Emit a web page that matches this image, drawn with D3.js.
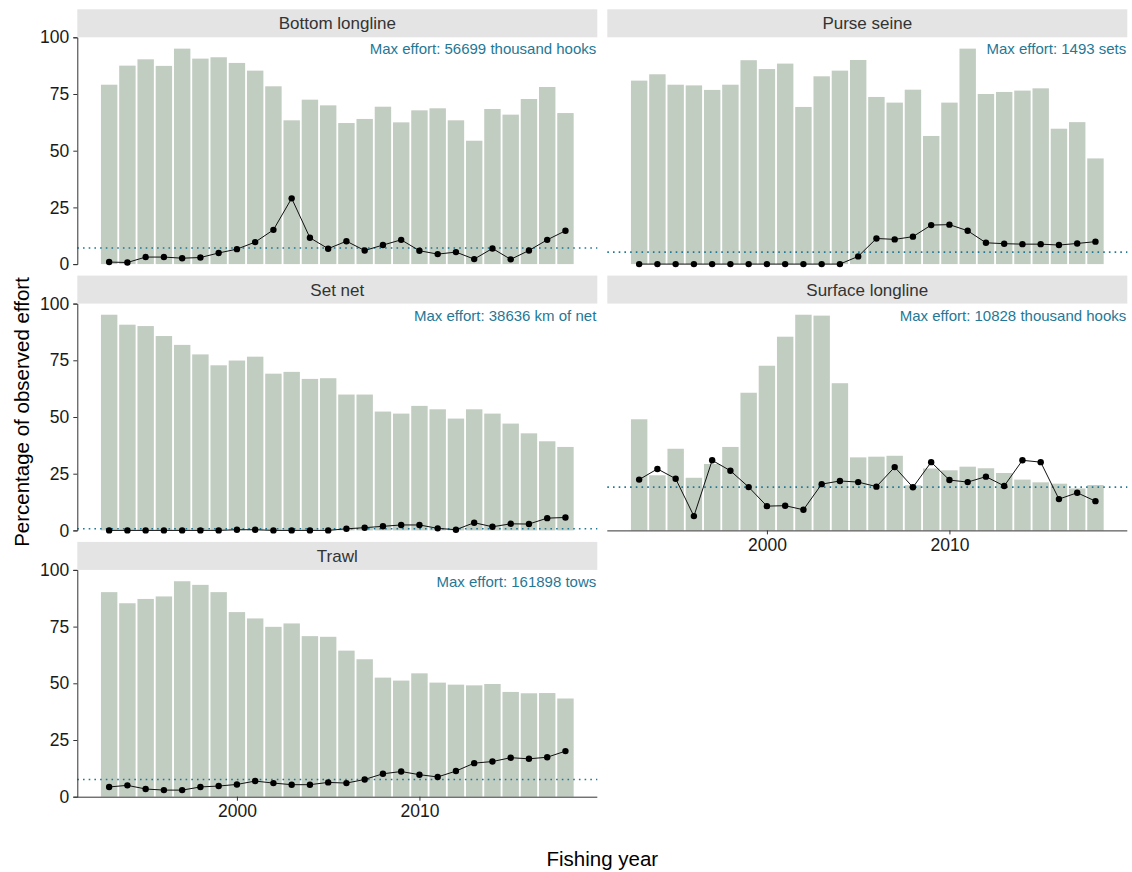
<!DOCTYPE html>
<html>
<head>
    <meta charset="utf-8">
    <title>Observed effort by fishing year</title>
    <script src="https://d3js.org/d3.v7.min.js"></script>
    <style>
        body { margin: 0; background: #fff; }
        svg { font-family: "Liberation Sans", Arial, sans-serif; }
    </style>
</head>
<body>
<svg id="chart" width="1132" height="872"></svg>

<script>
    // data
    var years = d3.range(1993, 2019);
    var gears = ["Bottom longline", "Purse seine", "Set net", "Surface longline", "Trawl"];
    var maxEffortLabels = [
        "Max effort: 56699 thousand hooks",
        "Max effort: 1493 sets",
        "Max effort: 38636 km of net",
        "Max effort: 10828 thousand hooks",
        "Max effort: 161898 tows"
    ];

    // bars: effort as percentage of max effort
    var effortBottomLongline = [79.1, 87.5, 90.3, 87.4, 95.0, 90.6, 91.2, 88.7, 85.3, 78.4, 63.4, 72.5, 70.0,
        62.2, 64.0, 69.4, 62.5, 67.8, 68.7, 63.4, 54.4, 68.4, 65.9, 72.8, 78.1, 66.6];
    var effortPurseSeine = [80.9, 83.7, 79.1, 78.8, 76.8, 79.1, 89.9, 86.0, 88.4, 69.3, 82.8, 85.3, 90.0,
        73.7, 71.2, 76.9, 56.5, 71.2, 95.0, 75.0, 75.9, 76.5, 77.5, 59.7, 62.6, 46.6];
    var effortSetNet = [95.1, 90.7, 90.1, 85.7, 81.8, 77.6, 72.8, 74.9, 76.6, 69.1, 69.9, 66.8, 67.1,
        59.9, 59.9, 52.4, 51.5, 54.9, 53.4, 49.3, 53.4, 51.5, 47.1, 42.8, 39.3, 36.8];
    var effortSurfaceLongline = [49.0, 24.3, 36.0, 23.2, 29.3, 36.8, 60.7, 72.6, 85.4, 95.1, 94.7, 64.9, 32.2,
        32.5, 32.9, 19.9, 27.3, 26.5, 28.1, 27.4, 25.3, 22.4, 21.2, 20.6, 18.5, 20.0];
    var effortTrawl = [90.2, 85.3, 87.2, 88.3, 95.0, 93.4, 90.2, 81.4, 78.6, 74.9, 76.4, 70.8, 70.5,
        64.4, 60.6, 52.5, 51.2, 54.4, 50.3, 49.4, 49.1, 49.7, 46.2, 45.6, 45.7, 43.3];

    // points: percentage of effort observed
    var observedBottomLongline = [0.9, 0.7, 3.1, 3.1, 2.6, 2.9, 4.9, 6.6, 9.7, 15.1, 29.0, 11.6, 6.8,
        10.1, 6.0, 8.4, 10.7, 5.9, 4.4, 5.3, 2.2, 6.9, 2.1, 6.0, 10.7, 14.7];
    var observedPurseSeine = [0, 0, 0, 0, 0, 0, 0, 0, 0, 0, 0, 0, 3.4,
        11.3, 10.9, 12.1, 17.2, 17.4, 14.7, 9.4, 9.0, 8.8, 8.8, 8.4, 9.1, 9.9];
    var observedSetNet = [0, 0, 0, 0, 0, 0, 0, 0.3, 0.3, 0, 0, 0, 0,
        0.7, 1.2, 1.8, 2.4, 2.4, 0.9, 0.3, 3.4, 1.6, 2.9, 2.8, 5.4, 5.7];
    var observedSurfaceLongline = [22.4, 27.1, 22.8, 6.3, 30.9, 26.3, 19.1, 10.7, 10.9, 9.1, 20.4, 21.8, 21.3,
        19.3, 27.9, 19.0, 30.1, 22.2, 21.3, 23.7, 19.6, 30.9, 30.1, 13.8, 16.6, 12.9];
    var observedTrawl = [4.3, 5.0, 3.4, 2.9, 2.9, 4.3, 4.7, 5.4, 6.9, 6.0, 5.3, 5.3, 6.3,
        6.0, 7.6, 10.1, 11.1, 9.7, 8.7, 11.3, 14.8, 15.5, 17.2, 16.7, 17.4, 20.1];

    // dotted reference line per gear
    var meanObserved = [7.1, 5.3, 0.7, 19.1, 7.6];

    var yTicks = [0, 25, 50, 75, 100];
    var xTicks = [2000, 2010];

    var effortSeries = [effortBottomLongline, effortPurseSeine, effortSetNet, effortSurfaceLongline, effortTrawl];
    var observedSeries = [observedBottomLongline, observedPurseSeine, observedSetNet, observedSurfaceLongline, observedTrawl];

    var svg = d3.select("#chart");

    var panelW = 520,
        panelH = 226.8,
        stripH = 28,
        colX = [77.3, 607.3],
        rowY = [9.3, 275.6, 541.9];

    var barColour = "#c2cdc2",
        refColour = "#1f7896";

    var x = d3.scaleLinear().domain([1991.255, 2019.745]).range([0, panelW]);
    var y = d3.scaleLinear().domain([0, 100]).range([panelH, 0]);

    gears.forEach(function(gear, i) {
        var col = i % 2,
            row = Math.floor(i / 2);

        var g = svg.append("g")
            .attr("transform", "translate(" + colX[col] + "," + (rowY[row] + stripH) + ")");

        // strip
        svg.append("rect")
            .attr("x", colX[col])
            .attr("y", rowY[row])
            .attr("width", panelW)
            .attr("height", stripH)
            .style("fill", "#e4e4e4");

        svg.append("text")
            .attr("x", colX[col] + panelW / 2)
            .attr("y", rowY[row] + 20)
            .attr("text-anchor", "middle")
            .style("font-size", "17px")
            .style("fill", "#333")
            .text(gear);

        var rows = years.map(function(yr, k) {
            return {year: yr, effort: effortSeries[i][k], observed: observedSeries[i][k]};
        });

        g.append("g")
            .selectAll("rect")
            .data(rows)
            .enter().append("rect")
            .attr("x", function(d) { return x(d.year - 0.45); })
            .attr("width", x(1992.155) - x(1991.255))
            .attr("y", function(d) { return y(d.effort); })
            .attr("height", function(d) { return y(0) - y(d.effort); })
            .style("fill", barColour);

        g.append("line")
            .attr("x1", 0)
            .attr("x2", panelW)
            .attr("y1", y(meanObserved[i]))
            .attr("y2", y(meanObserved[i]))
            .style("stroke", refColour)
            .style("stroke-width", 1.6)
            .style("stroke-dasharray", "1.6 4.1");

        var line = d3.line()
            .x(function(d) { return x(d.year); })
            .y(function(d) { return y(d.observed); });

        g.append("path")
            .datum(rows)
            .attr("d", line)
            .style("fill", "none")
            .style("stroke", "#111")
            .style("stroke-width", 1);

        g.append("g")
            .selectAll("circle")
            .data(rows)
            .enter().append("circle")
            .attr("cx", function(d) { return x(d.year); })
            .attr("cy", function(d) { return y(d.observed); })
            .attr("r", 3.2)
            .style("fill", "#000");

        g.append("text")
            .attr("x", panelW - 1)
            .attr("y", 17)
            .attr("text-anchor", "end")
            .style("font-size", "15px")
            .style("fill", refColour)
            .text(maxEffortLabels[i]);

        // y axis on the left column only
        if (col === 0) {
            var ya = g.append("g")
                .call(d3.axisLeft(y).tickValues(yTicks).tickSize(4).tickPadding(4));
            ya.selectAll("text").style("font-size", "17.5px").style("fill", "#1a1a1a").attr("font-family", null);
            ya.selectAll("line, path").style("stroke", "#333");
        }

        // x axis on the bottom panel of each column
        var isBottom = (col === 0 && row === 2) || (col === 1 && row === 1);
        if (isBottom) {
            var xa = g.append("g")
                .attr("transform", "translate(0," + panelH + ")")
                .call(d3.axisBottom(x).tickValues(xTicks).tickFormat(d3.format("d")).tickSize(4).tickPadding(4));
            xa.selectAll("text").style("font-size", "17.5px").style("fill", "#1a1a1a").attr("font-family", null);
            xa.selectAll("line, path").style("stroke", "#333");
            xa.select(".domain").attr("d", "M0,0.5H" + panelW);
        }
    });

    svg.append("text")
        .attr("x", (colX[0] + colX[1] + panelW) / 2)
        .attr("y", 866)
        .attr("text-anchor", "middle")
        .style("font-size", "20.5px")
        .style("fill", "#000")
        .text("Fishing year");

    svg.append("text")
        .attr("transform", "translate(29,412) rotate(-90)")
        .attr("text-anchor", "middle")
        .style("font-size", "20.5px")
        .style("fill", "#000")
        .text("Percentage of observed effort");
</script>
</body>
</html>
